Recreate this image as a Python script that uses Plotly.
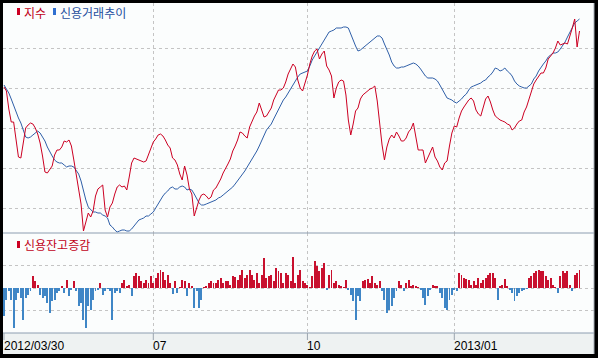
import pandas as pd
import plotly.graph_objects as go

# ---------------- data ----------------
start_date = "2012-03-30"
end_date = "2013-03-19"
holidays = ["2012-04-11", "2012-05-01", "2012-05-28", "2012-06-06", "2012-08-15",
            "2012-10-01", "2012-10-03", "2012-12-19", "2012-12-25", "2012-12-31",
            "2013-01-01", "2013-02-11", "2013-03-01"]

tick_dates = ["2012-03-30", "2012-07-02", "2012-10-02", "2013-01-02"]
tick_labels = ["2012/03/30", "07", "10", "2013/01"]

index_values = [520.5, 518.5, 509.5, 503, 503, 494, 485.5, 485, 493, 500, 501.5, 502.5, 502, 500, 497, 492.5, 486, 478, 477.5, 479,
                481, 486.5, 489, 489, 490.5, 493.5, 493, 494, 491, 484, 476.5, 468, 462, 448.5, 453, 457.5, 455.5, 458.5, 466, 469.5,
                470.5, 471.5, 459, 455.5, 460.5, 462.5, 467, 470.5, 471.5, 470.5, 471, 469, 475.5, 482.5, 485, 484.5, 484, 483.5, 483, 483.5,
                487, 490, 493, 494.5, 496.5, 497, 496, 494, 491.5, 490, 485, 484, 481.5, 477, 474, 481, 476.5, 469.5, 467, 456,
                460.5, 464, 466.5, 467, 466, 464.5, 465.5, 469, 470, 472, 474.5, 477.5, 479.5, 482, 484.5, 488.5, 491, 494, 498, 497.5,
                496, 495, 500.5, 503.5, 506, 508, 512.5, 509, 505.5, 506, 508, 510, 514, 516.5, 519, 519, 520, 523, 527, 529.5,
                532, 530.5, 524, 520, 518.5, 522.5, 526.5, 532, 536, 538.5, 539.5, 534.5, 537, 538.5, 531, 529, 526, 515, 520, 523,
                524, 523.5, 516.5, 504, 496.5, 502, 508.5, 510, 514.5, 516.5, 517.5, 518.5, 519.5, 520, 521, 513.5, 502, 491.5, 484, 490.5,
                494.5, 496.5, 495, 498, 496, 493.5, 493.5, 495, 498, 499.5, 502.5, 496.5, 489, 489, 489, 482.5, 485, 488, 490.5, 485.5,
                483.5, 480.5, 479, 482.5, 483.5, 491, 497.5, 501, 500.5, 505, 508.5, 510.5, 512.5, 514, 515, 513.5, 509, 507, 506, 510,
                514.5, 516, 513, 509, 506, 505, 504, 503.5, 503, 502, 501.5, 499, 500, 502, 503.5, 504, 508, 510.5, 514, 518,
                522, 524, 525.5, 527.5, 527.5, 530, 534.5, 536, 537.5, 540, 543.5, 541.5, 542, 542.5, 542, 545.5, 550, 554.5, 540.5, 548.5]

credit_trend = [521.5, 519.5, 517.5, 514.5, 511, 508, 505, 502.5, 498.5, 495.5, 495, 495.5, 496.5, 497.5, 498.5, 497.5, 495.5, 493.5, 490.5, 488,
                486, 484, 483, 482.5, 482.5, 481.5, 480.5, 481, 481, 480.5, 479, 477, 473.5, 468.5, 464, 460.5, 459, 458, 458, 457.5,
                457.5, 456.5, 456, 455, 451.5, 450.5, 449, 448, 448.5, 449, 449, 448.5, 448.5, 449.5, 451, 452.5, 454, 454.5, 455, 456,
                456, 457, 458, 460, 462, 464.5, 466, 467.5, 468.5, 470, 470.5, 469.5, 469.5, 470.5, 471, 470.5, 469, 469.5, 469, 467,
                465, 462.5, 461.5, 461.5, 462, 462.5, 463, 463.5, 464, 465, 465.5, 466.5, 467.5, 468.5, 469.5, 470.5, 472, 473.5, 475, 477,
                478.5, 480.5, 482.5, 484, 486, 488.5, 491, 493.5, 496, 499, 500.5, 502, 504.5, 507, 509.5, 512, 514, 515.5, 517.5, 519.5,
                522, 524, 525.5, 527, 527.5, 528, 528.5, 531, 534, 536, 538, 540, 542.5, 544.5, 546.5, 548, 548.5, 549, 550, 550,
                550, 550.5, 550.5, 550, 546.5, 544, 541, 538.5, 539, 540, 541, 542, 543, 544, 545, 546, 546, 545, 542, 539.5,
                536.5, 533, 531, 530, 530, 530.5, 530.5, 531, 531.5, 532, 532.5, 532, 531, 529.5, 527.5, 526, 525, 525, 525, 524.5,
                523.5, 521.5, 519.5, 517, 515, 514.5, 514, 513, 512.5, 513.5, 514.5, 516, 517, 519, 520.5, 521, 521.5, 522, 522.5, 523.5,
                524, 525.5, 526.5, 528, 530, 529.5, 528.5, 529, 530, 528.5, 527.5, 526, 523.5, 522, 521, 520.5, 520, 520, 521, 522,
                524.5, 526, 528.5, 530.5, 532, 533.5, 535.5, 536.5, 537.5, 537.5, 538, 539.5, 541, 543, 545.5, 548, 550.5, 552.5, 553.5, 554.5]

credit_change = [-560, -240, -60, -240, -800, -240, -100, -200, -640, -200, -140, -60, 240, 140, 60, -140, -200, -160, -300, -500,
                 -260, -240, -100, -60, 40, -100, 160, -160, -40, 140, -60, -360, -300, -640, -800, -360, -440, -240, -60, -40,
                 100, -140, -60, -20, -60, -640, -100, -60, -100, 100, 160, 40, 60, -160, 240, 300, 240, 140, 100, 160,
                 100, 240, 100, 200, 300, 360, 320, 160, 260, 100, -120, 140, -100, 20, 160, 140, -160, 100, 40, -400,
                 -60, -400, -240, 20, 40, 100, 140, 100, 100, 160, 200, 100, 140, 140, 60, 240, 220, 160, 260, 360,
                 200, 260, 360, 260, 160, 300, 100, 260, 600, 200, 240, 260, 140, 400, 340, 300, 100, 300, 260, 140,
                 620, 100, 260, 360, 140, 100, 60, 20, 240, 540, 440, 340, 400, 500, -40, 260, 360, 100, 140, 60,
                 40, 20, 160, -40, -140, -260, -640, -160, -260, 140, 160, 180, 100, 240, 100, 60, 140, -60, -240, -500,
                 -440, -360, -200, -60, 140, 60, -60, 100, 160, 40, 60, 40, 20, -40, -200, -340, -160, -40, 60, 40,
                 40, -100, -200, -400, -440, -240, -140, -40, -60, 300, 260, 200, 180, 160, 60, 140, 60, 200, 100, 160,
                 200, 260, 300, 300, 200, -240, 40, 60, 180, 40, -40, -100, -260, -160, -100, -60, -40, -20, 200, 240,
                 300, 340, 360, 340, 340, 240, 160, 200, 60, 20, -100, 240, 340, 300, 340, 60, -60, 260, 300, 360]

# ---------------- derived ----------------
dates = pd.bdate_range(start_date, end_date)
dates = dates[~dates.isin(pd.to_datetime(holidays))]
date_pos = {d.strftime("%Y-%m-%d"): i for i, d in enumerate(dates)}
tick_pos = [date_pos[d] for d in tick_dates]

x_red = list(range(len(index_values)))
x_blue = list(range(len(credit_trend)))
x_bar = list(range(len(credit_change)))
bar_colors = ["#c8102e" if v >= 0 else "#3f86c6" for v in credit_change]

# ---------------- geometry (pixels) ----------------
W, H = 598, 358
ML, MR, MT, MB = 3, 4, 3, 4
PW = W - ML - MR
PH = H - MT - MB


def px_x(px):
    return (px - ML) / PW


def px_y(py):
    return (H - MB - py) / PH


upper_bottom = px_y(233)
lower_bottom = px_y(333)
x_per_day = 2.408
x_range = [-(4 - ML) / x_per_day, -(4 - ML) / x_per_day + PW / x_per_day]

GRID = "#c4c4c4"
SEP = "#8c9db0"
RED_LINE = "#cc0022"
BLUE_LINE = "#2f5fa8"

fig = go.Figure()
fig.add_trace(go.Bar(x=x_bar, y=credit_change, marker_color=bar_colors, marker_line_width=0,
                     width=0.4, xaxis="x2", yaxis="y2", hoverinfo="skip"))
fig.add_trace(go.Scatter(x=x_blue, y=credit_trend, mode="lines",
                         line=dict(color=BLUE_LINE, width=1), xaxis="x", yaxis="y", hoverinfo="skip"))
fig.add_trace(go.Scatter(x=x_red, y=index_values, mode="lines",
                         line=dict(color=RED_LINE, width=1), xaxis="x", yaxis="y", hoverinfo="skip"))

xaxis_common = dict(range=x_range, showticklabels=False, ticks="", showline=False, zeroline=False,
                    showgrid=True, tickvals=tick_pos, gridcolor=GRID, griddash="dot", gridwidth=1)

shapes = [
    dict(type="rect", xref="paper", yref="paper", x0=0, x1=1, y0=0, y1=lower_bottom,
         fillcolor="#eef2f2", line=dict(width=0), layer="below"),
    dict(type="line", xref="paper", yref="paper", x0=0, x1=1, y0=upper_bottom, y1=upper_bottom,
         line=dict(color=SEP, width=1)),
    dict(type="line", xref="paper", yref="paper", x0=0, x1=1, y0=lower_bottom, y1=lower_bottom,
         line=dict(color=SEP, width=1)),
    dict(type="line", xref="paper", yref="paper", x0=1, x1=1, y0=0, y1=1,
         line=dict(color="#a8b0b8", width=1)),
    # legend markers
    dict(type="rect", xref="paper", yref="paper", x0=px_x(17), x1=px_x(20), y0=px_y(15), y1=px_y(8),
         fillcolor="#cc0022", line=dict(width=0)),
    dict(type="rect", xref="paper", yref="paper", x0=px_x(53), x1=px_x(56), y0=px_y(15), y1=px_y(8),
         fillcolor="#2f6fd0", line=dict(width=0)),
    dict(type="rect", xref="paper", yref="paper", x0=px_x(17), x1=px_x(20), y0=px_y(248), y1=px_y(241),
         fillcolor="#cc0022", line=dict(width=0)),
]
for t in tick_pos:
    shapes.append(dict(type="line", xref="x2", yref="paper", x0=t, x1=t, y0=px_y(340), y1=lower_bottom,
                       line=dict(color="#9aa4ae", width=1)))

KFONT = "Noto Sans CJK KR"
annotations = [
    dict(text="지수", xref="paper", yref="paper", x=px_x(22), y=px_y(12), xanchor="left", yanchor="middle",
         showarrow=False, font=dict(family=KFONT, size=12, color="#c00018")),
    dict(text="신용거래추이", xref="paper", yref="paper", x=px_x(58), y=px_y(12), xanchor="left", yanchor="middle",
         showarrow=False, font=dict(family=KFONT, size=12, color="#1f4f9e")),
    dict(text="신용잔고증감", xref="paper", yref="paper", x=px_x(22), y=px_y(245), xanchor="left", yanchor="middle",
         showarrow=False, font=dict(family=KFONT, size=12, color="#c00018")),
]
for t, lab in zip(tick_pos, tick_labels):
    annotations.append(dict(text=lab, xref="x2", yref="paper", x=t, y=px_y(346), xanchor="left", yanchor="middle",
                            xshift=-2, showarrow=False,
                            font=dict(family="Liberation Sans", size=12, color="#000000")))

fig.update_layout(
    width=W, height=H,
    margin=dict(l=ML, r=MR, t=MT, b=MB),
    paper_bgcolor="#000000",
    plot_bgcolor="#fbfdfd",
    showlegend=False,
    xaxis=dict(domain=[0, 1], anchor="y", **xaxis_common),
    xaxis2=dict(domain=[0, 1], anchor="y2", matches="x", **xaxis_common),
    yaxis=dict(domain=[upper_bottom, 1], range=[564 - 233 / 2, 564 - 3 / 2],
               tickvals=[540, 520, 500, 480, 460], showticklabels=False, ticks="",
               showgrid=True, gridcolor=GRID, griddash="dot", gridwidth=1, zeroline=False, showline=False),
    yaxis2=dict(domain=[lower_bottom, upper_bottom], range=[-900, 1100],
                tickvals=[-450, 0, 450], showticklabels=False, ticks="",
                showgrid=True, gridcolor=GRID, griddash="dot", gridwidth=1, zeroline=False, showline=False),
    shapes=shapes,
    annotations=annotations,
)

fig.write_html("out.html", config={"displayModeBar": False},
               post_script="document.body.style.margin='0';document.body.style.background='#000';")
